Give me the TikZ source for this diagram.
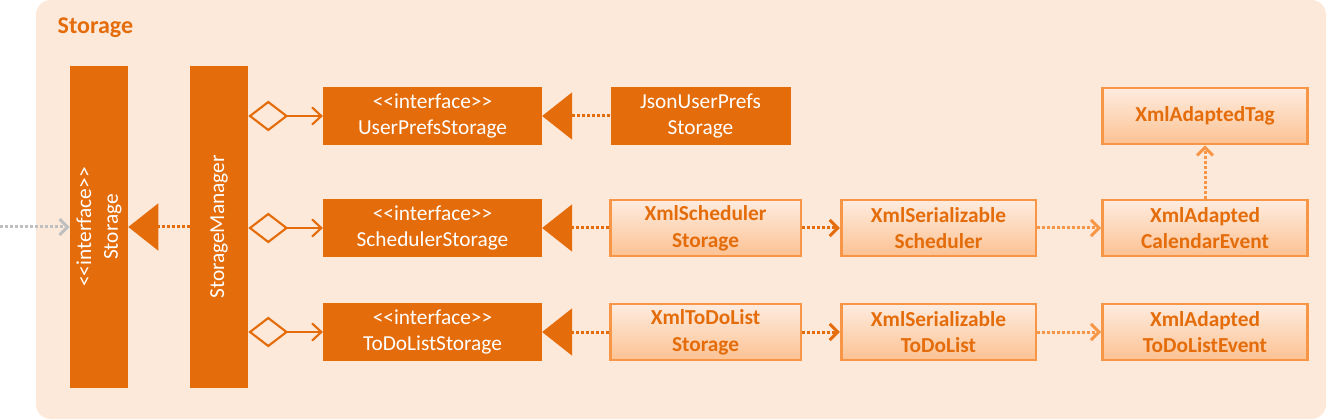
\documentclass[tikz,border=0pt]{standalone}
\usepackage{fontspec}
\setmainfont{Carlito}
\usetikzlibrary{arrows.meta,positioning}
\definecolor{stdark}{HTML}{E46C0A}
\definecolor{stlight}{HTML}{F79646}
\definecolor{stbg}{HTML}{FDE9DA}
\definecolor{sttop}{HTML}{FEECDF}
\definecolor{stbot}{HTML}{FCC293}
\definecolor{stgray}{HTML}{BFBFBF}
\tikzset{
  darkbox/.style={fill=stdark,text=white,align=center,minimum height=43.5pt,inner sep=0pt,font=\fontsize{16}{20}\selectfont},
  lightbox/.style={draw=stlight,line width=2pt,top color=sttop,bottom color=stbot,text=stdark,align=center,minimum height=42pt,inner sep=0pt,font=\fontsize{16}{20}\selectfont\bfseries},
  real/.style={stdark,line width=2.25pt,dash pattern=on 2.25pt off 1.5pt,-{Triangle[length=22.5pt,width=35pt]}},
  agg/.style={stdark,line width=1.6pt,{Diamond[open,length=30pt,width=23pt]}-{Straight Barb[length=7pt,width=13pt]}},
  dep/.style={line width=2.25pt,dash pattern=on 2.25pt off 1.5pt,-{Straight Barb[length=6pt,width=12pt]}},
}
\begin{document}
\begin{tikzpicture}[x=0.75pt,y=-0.75pt]
\useasboundingbox (0,0) rectangle (1327,420);
\fill[stbg,rounded corners=11pt] (36,0) rectangle (1326,419);
\node[text=stdark,font=\fontsize{18}{22}\selectfont\bfseries,anchor=west] (title) at (53,28) {Storage};

% left column
\node[darkbox,rotate=90,minimum width=242pt] (stor) at (99,227) {{<}{<}interface{>}{>}\\Storage};
\node[darkbox,rotate=90,minimum width=241pt] (mgr) at (219,227) {StorageManager};

% interfaces
\node[darkbox,minimum width=164pt] (ups) at (432.5,116) {{<}{<}interface{>}{>}\\UserPrefsStorage};
\node[darkbox,minimum width=164pt] (ss) at (432.5,228) {{<}{<}interface{>}{>}\\SchedulerStorage};
\node[darkbox,minimum width=164pt] (tds) at (432.5,332) {{<}{<}interface{>}{>}\\ToDoListStorage};

% implementations
\node[darkbox,minimum width=135pt] (json) at (700.5,116) {JsonUserPrefs\\Storage};
\node[lightbox,minimum width=143pt] (xss) at (705.5,228) {XmlScheduler\\Storage};
\node[lightbox,minimum width=146pt] (xsch) at (938.5,228) {XmlSerializable\\Scheduler};
\node[lightbox,minimum width=154pt] (xce) at (1205,228) {XmlAdapted\\CalendarEvent};
\node[lightbox,minimum width=154pt] (tag) at (1205,116) {XmlAdaptedTag};
\node[lightbox,minimum width=143pt] (xtd) at (705.5,332) {XmlToDoList\\Storage};
\node[lightbox,minimum width=146pt] (xstd) at (938.5,332) {XmlSerializable\\ToDoList};
\node[lightbox,minimum width=154pt] (xte) at (1205,332) {XmlAdapted\\ToDoListEvent};

\coordinate (ext) at (0,227);
\draw[dep,stgray] (ext) -- (stor);
\draw[real] (mgr) -- (stor);
\foreach \n in {ups,ss,tds}
  \draw[agg] (mgr.south |- \n) -- (\n);
\draw[real] (json) -- (ups);
\draw[real] (xss) -- (ss);
\draw[real] (xtd) -- (tds);
\draw[dep,stdark] (xss) -- (xsch);
\draw[dep,stlight] (xsch) -- (xce);
\draw[dep,stlight] (xce) -- (tag);
\draw[dep,stdark] (xtd) -- (xstd);
\draw[dep,stlight] (xstd) -- (xte);
\end{tikzpicture}
\end{document}
